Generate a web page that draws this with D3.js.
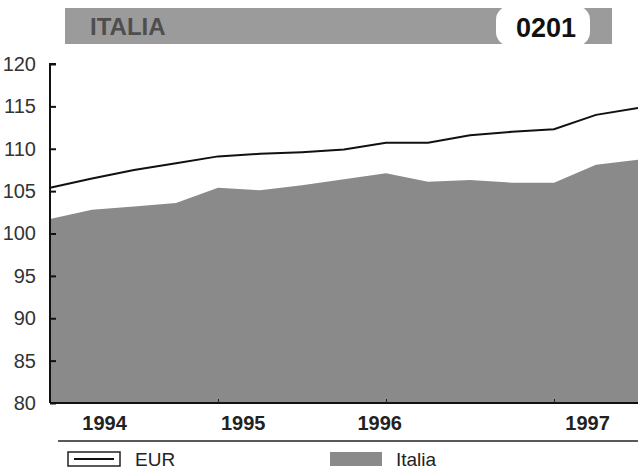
<!DOCTYPE html>
<html><head><meta charset="utf-8">
<script src="https://cdn.jsdelivr.net/npm/d3@7"></script>
<style>body{margin:0;background:#fff}svg{display:block}text{font-family:"Liberation Sans",Arial,sans-serif}</style>
</head><body><svg id="c" width="638" height="475"></svg>
<script>
const quarters = ["1994Q1","1994Q2","1994Q3","1994Q4","1995Q1","1995Q2","1995Q3","1995Q4","1996Q1","1996Q2","1996Q3","1996Q4","1997Q1","1997Q2","1997Q3"];
const eur    = [105.4,106.5,107.5,108.3,109.1,109.4,109.6,109.9,110.7,110.7,111.6,112.0,112.3,114.0,114.8];
const italia = [101.7,102.8,103.2,103.6,105.4,105.1,105.7,106.4,107.1,106.1,106.3,106.0,106.0,108.1,108.7];
const yTicks = [80,85,90,95,100,105,110,115,120];
const yearLabels = ["1994","1995","1996","1997"];
const yearLabelAt = [1.3,4.6,7.85,12.8];   // quarter index where each year label sits
const yearTickAt = [4,8,12];
const title = "ITALIA", code = "0201";
const legendNames = ["EUR","Italia"];

const svg = d3.select("#c");
const x = d3.scaleLinear().domain([0, quarters.length-1]).range([50, 638]);
const y = d3.scaleLinear().domain([80,120]).range([403, 64]);

// banner
const bar = svg.append("g");
bar.append("rect").attr("x",65).attr("y",8).attr("width",547).attr("height",36).attr("fill","#9b9b9b");
bar.append("rect").attr("x",496).attr("y",6).attr("width",94).attr("height",40).attr("rx",14).attr("fill","#fff");
bar.append("text").attr("x",90).attr("y",35).attr("font-size",24).attr("font-weight","bold").attr("fill","#4e4e4e").text(title);
bar.append("text").attr("x",546).attr("y",37).attr("text-anchor","middle").attr("font-size",27).attr("font-weight","bold").attr("fill","#111").text(code);

// area
svg.append("path").datum(italia)
  .attr("d", d3.area().x((d,i)=>x(i)).y0(y(80)).y1(d=>y(d)))
  .attr("fill","#8a8a8a");
// EUR line
svg.append("path").datum(eur)
  .attr("d", d3.line().x((d,i)=>x(i)).y(d=>y(d)))
  .attr("fill","none").attr("stroke","#111").attr("stroke-width",2);

// y axis
const ya = svg.append("g").attr("transform","translate(50,0)")
  .call(d3.axisRight(y).tickValues(yTicks).tickSize(6).tickFormat(d3.format("d")));
ya.select(".domain").attr("stroke","#111").attr("stroke-width",2).attr("d","M6,64H0V403");
ya.selectAll(".tick line").attr("stroke","#111").attr("stroke-width",2);
ya.selectAll(".tick text").attr("x",-14).attr("text-anchor","end").attr("font-size",20).attr("fill","#333").attr("font-family","Liberation Sans, Arial, sans-serif");

// x axis
const xa = svg.append("g").attr("transform","translate(0,403)")
  .call(d3.axisTop(x).tickValues(yearTickAt).tickSize(4).tickFormat(""));
xa.select(".domain").attr("stroke","#111").attr("stroke-width",2).attr("d","M50,0H638");
xa.selectAll(".tick line").attr("stroke","#222");
svg.append("g").selectAll("text").data(yearLabels).join("text")
  .attr("x",(d,i)=>x(yearLabelAt[i])).attr("y",430).attr("text-anchor","middle")
  .attr("font-size",20).attr("font-weight","bold").attr("fill","#222").text(d=>d);

// separator
svg.append("line").attr("x1",58).attr("x2",638).attr("y1",441).attr("y2",441).attr("stroke","#222").attr("stroke-width",1.5);

// legend
const lg = svg.append("g");
lg.append("rect").attr("x",68).attr("y",452).attr("width",52).attr("height",14).attr("fill","#fff").attr("stroke","#222").attr("stroke-width",1.5);
lg.append("line").attr("x1",74).attr("x2",114).attr("y1",459).attr("y2",459).attr("stroke","#111").attr("stroke-width",2);
lg.append("text").attr("x",135).attr("y",466).attr("font-size",19).attr("fill","#222").text(legendNames[0]);
lg.append("rect").attr("x",330).attr("y",452).attr("width",52).attr("height",14).attr("fill","#8a8a8a");
lg.append("text").attr("x",396).attr("y",466).attr("font-size",19).attr("fill","#222").text(legendNames[1]);
</script></body></html>
